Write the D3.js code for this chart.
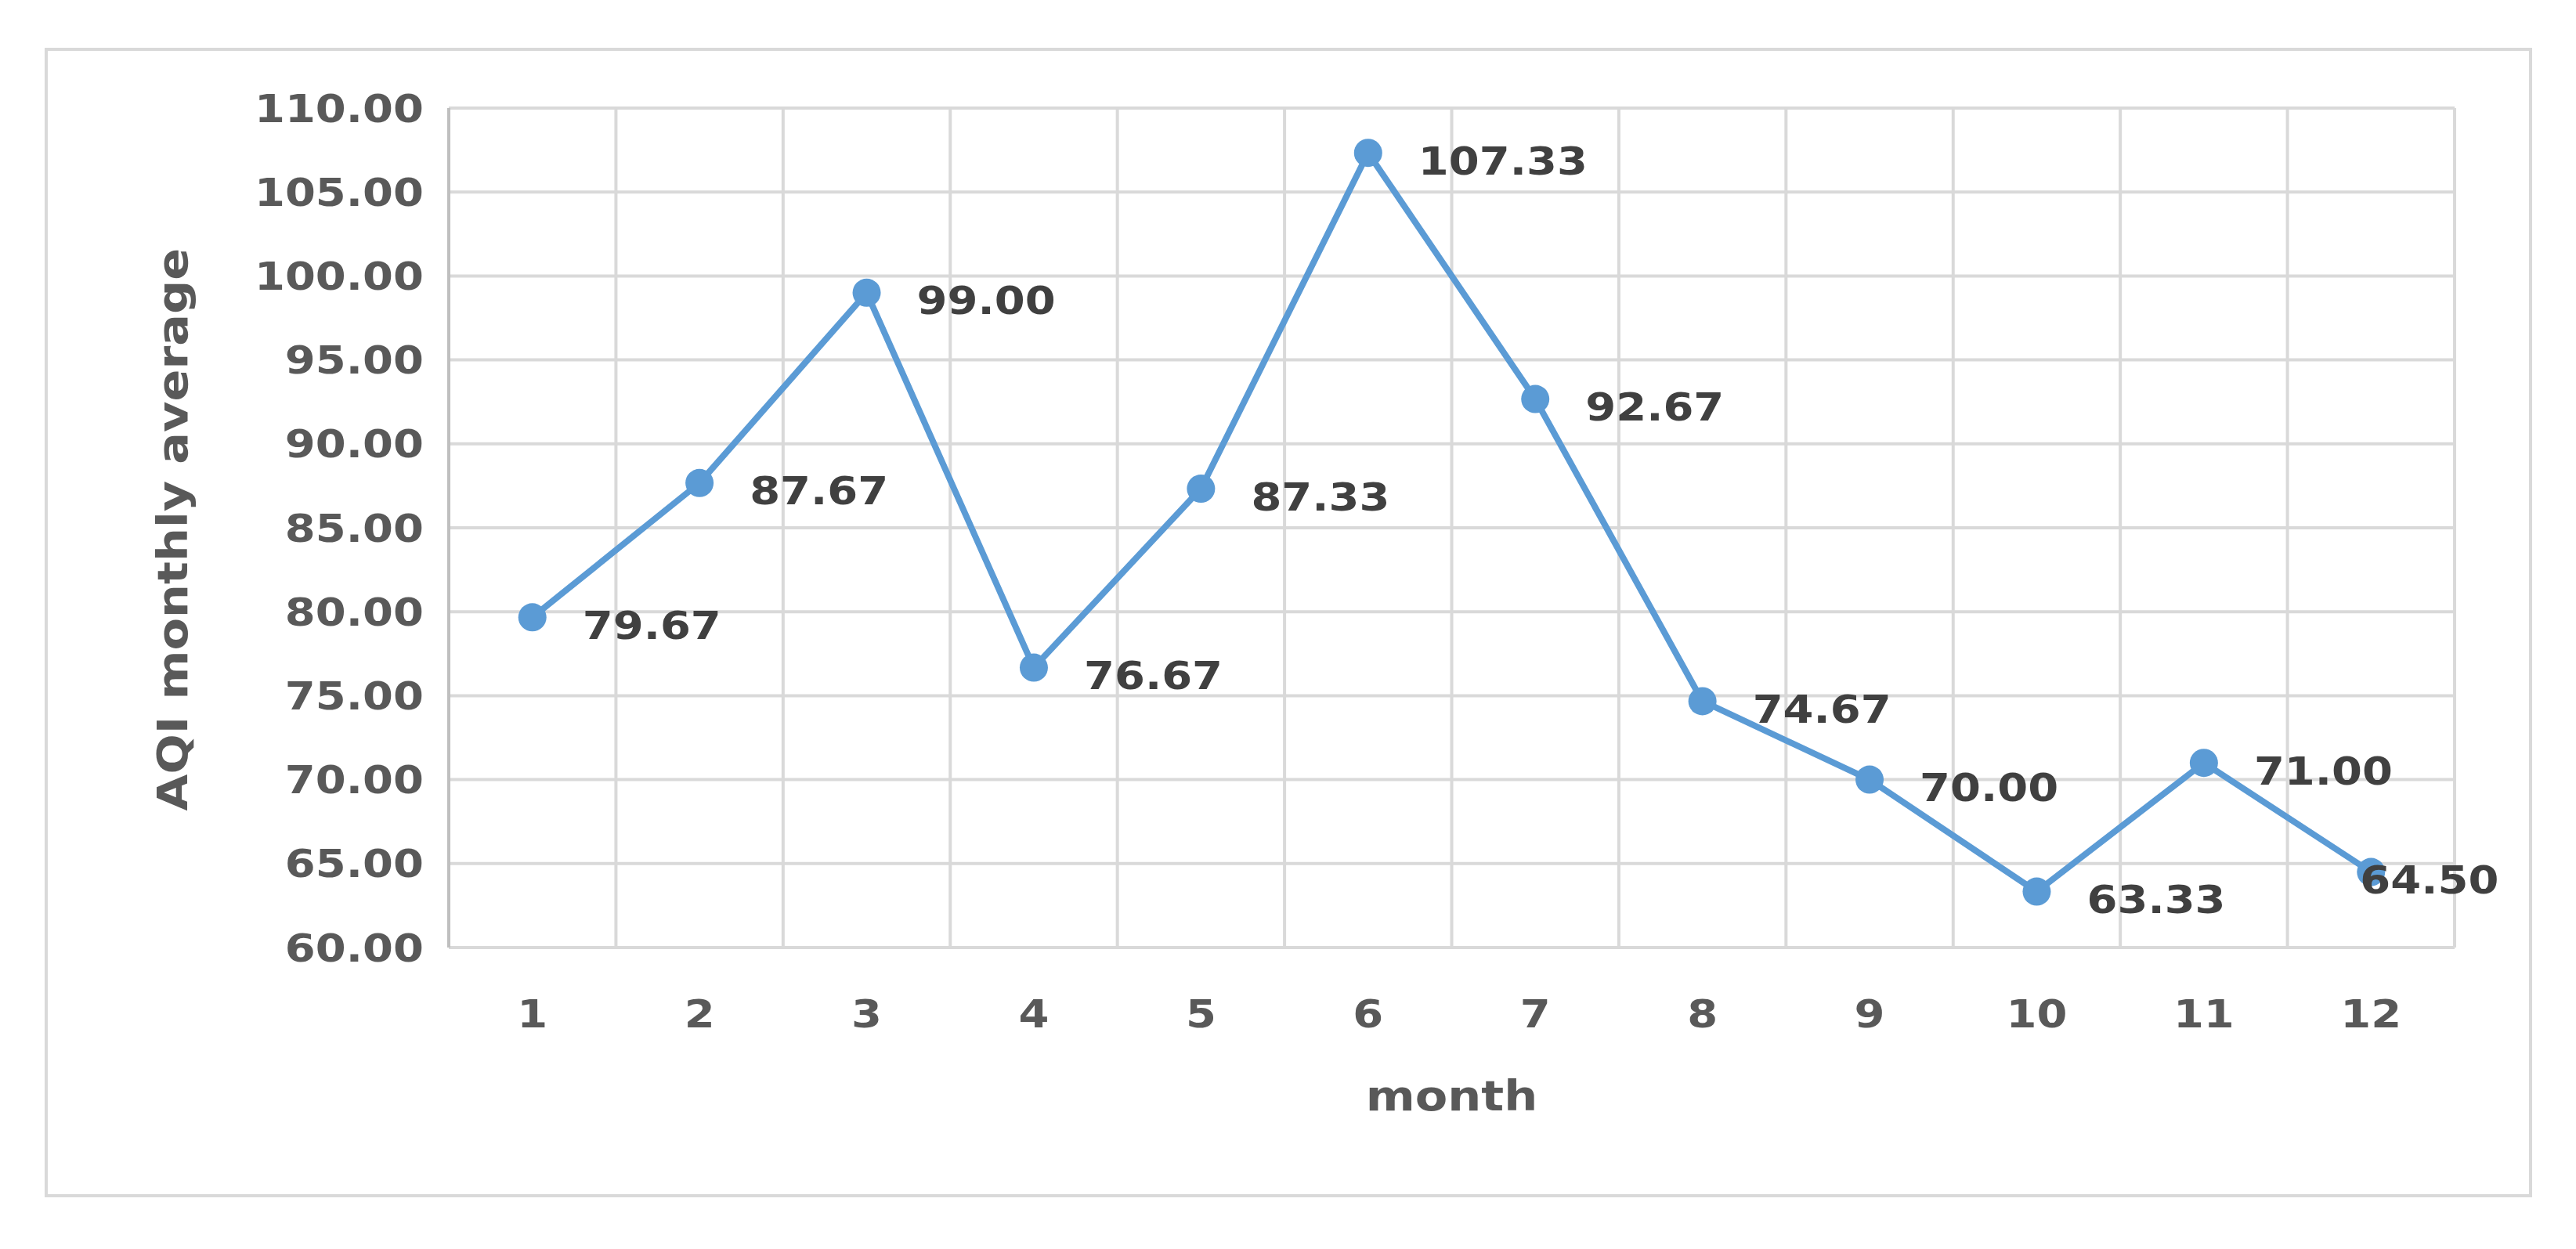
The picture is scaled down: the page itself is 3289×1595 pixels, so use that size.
<!DOCTYPE html>
<html><head><meta charset="utf-8">
<script src="https://cdn.jsdelivr.net/npm/d3@7/dist/d3.min.js"></script>
<style>body{margin:0;background:#fff}</style></head>
<body><svg id="c" width="3289" height="1595"></svg>
<script>
const months = ["1","2","3","4","5","6","7","8","9","10","11","12"];
const values = [79.67, 87.67, 99.00, 76.67, 87.33, 107.33, 92.67, 74.67, 70.00, 63.33, 71.00, 64.50];
const yTicks = [60,65,70,75,80,85,90,95,100,105,110];

const svg = d3.select("#c");
const L=573, R=3134, T=138, B=1210;
const font = "'DejaVu Sans',sans-serif";
const txt = "#595959";
const SX = 1.12;
svg.append("rect").attr("x",59).attr("y",63).attr("width",3172).attr("height",1464)
  .attr("fill","#fff").attr("stroke","#d9d9d9").attr("stroke-width",4);

const x = d3.scaleBand().domain(months).range([L,R]);
const y = d3.scaleLinear().domain([60,110]).range([B,T]);

svg.append("g").selectAll("line").data(yTicks).join("line")
  .attr("x1",L).attr("x2",R).attr("y1",d=>y(d)).attr("y2",d=>y(d))
  .attr("stroke","#d9d9d9").attr("stroke-width",4);
const bounds = months.map(m=>x(m)).concat([R]);
svg.append("g").selectAll("line").data(bounds).join("line")
  .attr("x1",d=>d).attr("x2",d=>d).attr("y1",T).attr("y2",B)
  .attr("stroke",(d,i)=>i===0?"#bfbfbf":"#d9d9d9").attr("stroke-width",4);

function stretched(sel, px, py, anchor, size, color){
  sel.attr("transform",(d,i)=>`translate(${px(d,i)},${py(d,i)}) scale(${SX},1)`)
    .attr("dy","0.35em").attr("text-anchor",anchor)
    .attr("font-family",font).attr("font-weight","bold").attr("font-size",size).attr("fill",color);
}
stretched(svg.append("g").selectAll("text").data(yTicks).join("text").text(d=>d.toFixed(2)),
  ()=>541, d=>y(d), "end", 50, txt);
stretched(svg.append("g").selectAll("text").data(months).join("text").text(d=>d),
  d=>x(d)+x.bandwidth()/2, ()=>1294, "middle", 50, txt);
stretched(svg.append("text").datum(0).text("month"), ()=>(L+R)/2, ()=>1399, "middle", 54, txt);
svg.append("text").attr("transform","translate(220,676) rotate(-90) scale(1.12,1)").attr("dy","0.35em").attr("text-anchor","middle")
  .attr("font-family",font).attr("font-weight","bold").attr("font-size",54).attr("fill",txt).text("AQI monthly average");

const cx = (d,i)=>x(months[i])+x.bandwidth()/2;
const line = d3.line().x(cx).y(d=>y(d));
svg.append("path").datum(values).attr("d",line).attr("fill","none")
  .attr("stroke","#5b9bd5").attr("stroke-width",8).attr("stroke-linejoin","round");
svg.append("g").selectAll("circle").data(values).join("circle")
  .attr("cx",cx).attr("cy",d=>y(d)).attr("r",18).attr("fill","#5b9bd5");

stretched(svg.append("g").selectAll("text").data(values).join("text").text(d=>d.toFixed(2)),
  (d,i)=> i===values.length-1 ? cx(d,i)-14 : cx(d,i)+64, d=>y(d)+10, "start", 50, "#404040");
</script></body></html>
